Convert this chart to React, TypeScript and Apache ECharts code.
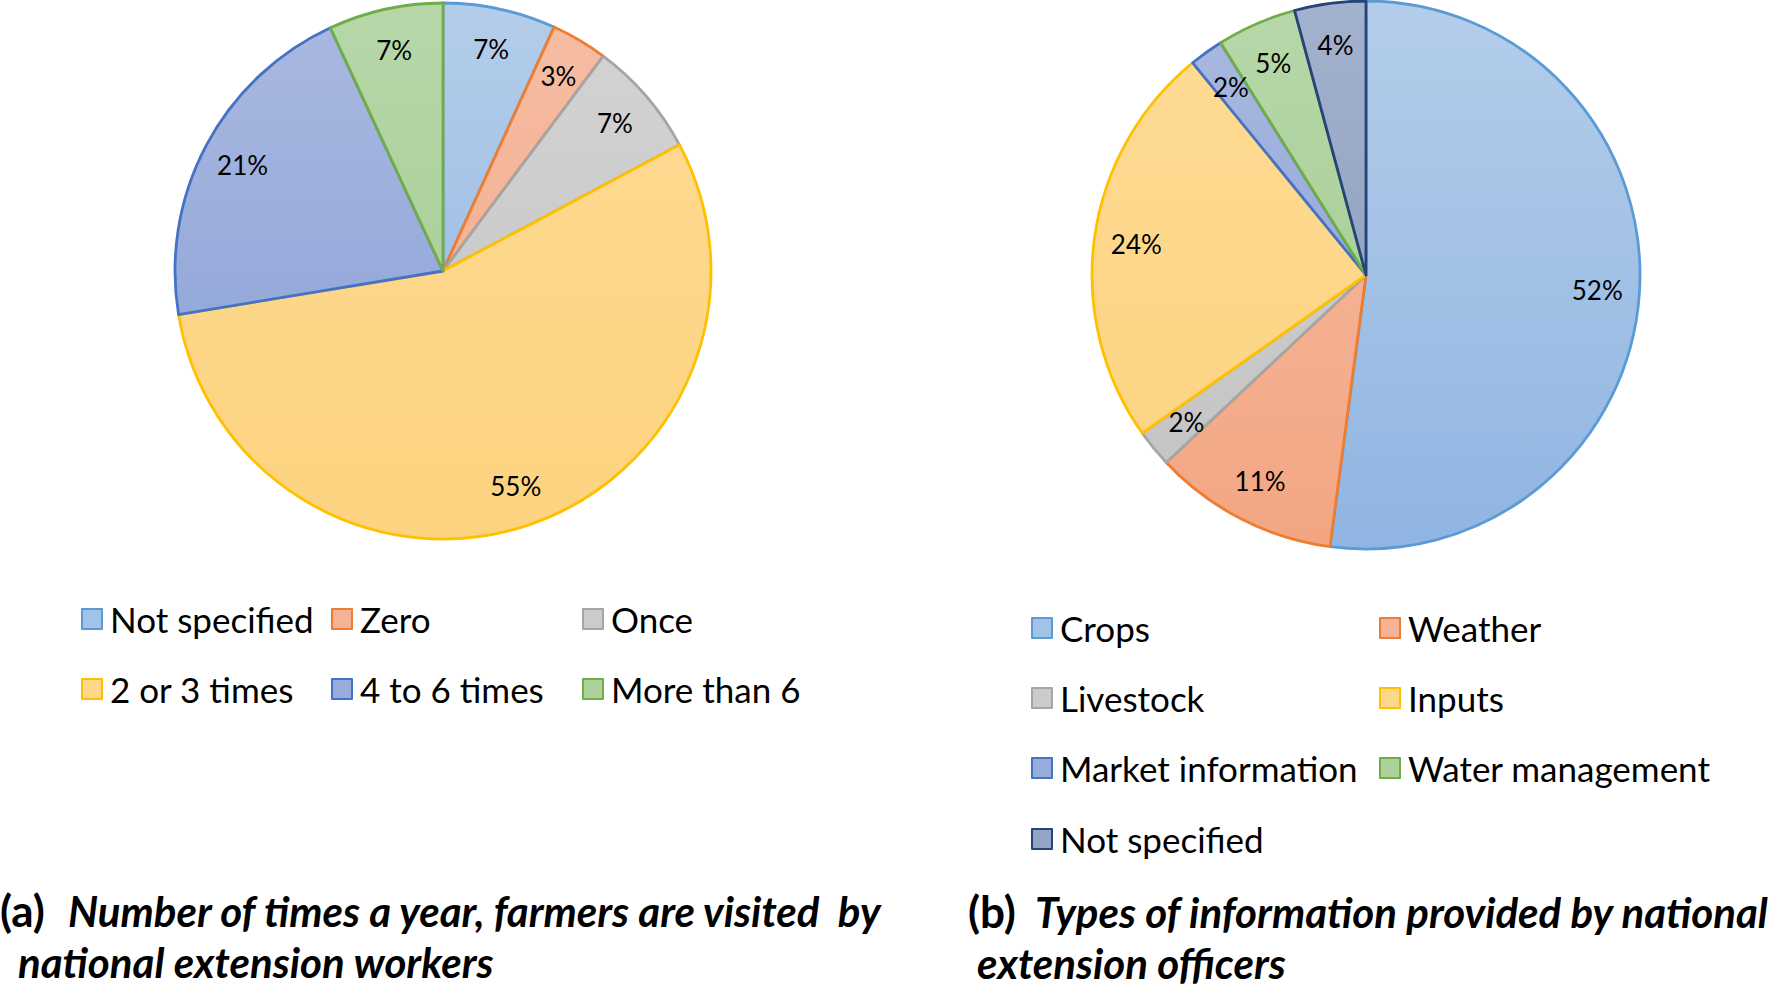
import React, { useEffect, useRef } from "react";
import * as echarts from "echarts";

// ---------- data ----------
const visitCategories = ["Not specified", "Zero", "Once", "2 or 3 times", "4 to 6 times", "More than 6"];
const visitShares = [6.8, 3.4, 7.0, 55.2, 20.7, 6.9];

const infoCategories = [
  "Crops",
  "Weather",
  "Livestock",
  "Inputs",
  "Market information",
  "Water management",
  "Not specified",
];
const infoShares = [52.1, 10.9, 2.2, 23.9, 2.0, 4.7, 4.2];

const titleAParts = ["(a)", "Number of times a year, farmers are visited  by", "national extension workers"];
const titleBParts = ["(b)", "Types of information provided by national", "extension officers"];

// ---------- styles ----------
type Pal = { border: string; top: string; bottom: string; flat: string };
const P_BLUE: Pal = { border: "#5B9BD5", top: "#B4CDEA", bottom: "#90B5E2", flat: "#A3C2E7" };
const P_ORANGE: Pal = { border: "#ED7D31", top: "#F6BEA5", bottom: "#F3A582", flat: "#F5B294" };
const P_GRAY: Pal = { border: "#A5A5A5", top: "#D4D4D4", bottom: "#C2C2C2", flat: "#CBCBCB" };
const P_GOLD: Pal = { border: "#FFC000", top: "#FEDB95", bottom: "#FCD37F", flat: "#FDD78A" };
const P_ROYAL: Pal = { border: "#4472C4", top: "#AAB9E0", bottom: "#869ED6", flat: "#98ACDB" };
const P_GREEN: Pal = { border: "#70AD47", top: "#B7D7A9", bottom: "#A1CA8C", flat: "#ACD19A" };
const P_NAVY: Pal = { border: "#264478", top: "#A3B2CD", bottom: "#8498BA", flat: "#93A5C4" };

const visitPalette = [P_BLUE, P_ORANGE, P_GRAY, P_GOLD, P_ROYAL, P_GREEN];
const infoPalette = [P_BLUE, P_ORANGE, P_GRAY, P_GOLD, P_ROYAL, P_GREEN, P_NAVY];

const FONT = "Lato, 'Open Sans', sans-serif";

type Cfg = {
  names: string[];
  values: number[];
  palette: Pal[];
  cx: number;
  cy: number;
  r: number;
  legendPos: { left: number; rowCenter: number }[];
  title: string[];
  titleX: [number, number, number];
  titleY: [number, number];
};

function buildOption(c: Cfg): any {
  const grad = (p: Pal) => ({
    type: "linear",
    x: 0,
    y: c.cy - c.r,
    x2: 0,
    y2: c.cy + c.r,
    global: true,
    colorStops: [
      { offset: 0, color: p.top },
      { offset: 1, color: p.bottom },
    ],
  });

  const mainData = c.names.map((n, i) => ({
    name: n,
    value: c.values[i],
    itemStyle: {
      color: grad(c.palette[i]),
      borderColor: c.palette[i].border,
      borderWidth: 2.8,
    },
  }));
  const labelData = c.names.map((n, i) => ({ name: n, value: c.values[i] }));

  const legends = c.names.map((n, i) => ({
    data: [
      {
        name: n,
        itemStyle: {
          color: c.palette[i].flat,
          borderColor: c.palette[i].border,
          borderWidth: 2,
        },
      },
    ],
    left: c.legendPos[i].left,
    top: c.legendPos[i].rowCenter - 20,
    padding: 0,
    itemWidth: 20,
    itemHeight: 20,
    icon: "rect",
    selectedMode: false,
    textStyle: {
      fontFamily: FONT,
      fontSize: 35,
      color: "#000",
      padding: [0, 0, 0, 3],
      lineHeight: 40,
    },
  }));

  return {
    animation: false,
    backgroundColor: "#fff",
    legend: legends,
    graphic: [
      {
        type: "text",
        left: c.titleX[0],
        top: c.titleY[0] - 28,
        style: {
          text: c.title[0],
          font: `bold 44px ${FONT}`,
          fill: "#000",
        },
      },
      {
        type: "text",
        left: c.titleX[1],
        top: c.titleY[0] - 26,
        style: {
          text: c.title[1],
          font: `italic bold 42px ${FONT}`,
          fill: "#000",
        },
      },
      {
        type: "text",
        left: c.titleX[2],
        top: c.titleY[1] - 26,
        style: {
          text: c.title[2],
          font: `italic bold 42px ${FONT}`,
          fill: "#000",
        },
      },
    ],
    series: [
      {
        type: "pie",
        center: [c.cx, c.cy],
        radius: [0, c.r],
        startAngle: 90,
        clockwise: true,
        label: { show: false },
        labelLine: { show: false },
        emphasis: { disabled: true },
        silent: true,
        data: mainData,
      },
      {
        type: "pie",
        center: [c.cx, c.cy],
        radius: [c.r * 0.67, c.r],
        startAngle: 90,
        clockwise: true,
        silent: true,
        emphasis: { disabled: true },
        itemStyle: { color: "rgba(0,0,0,0)", borderWidth: 0 },
        labelLine: { show: false },
        label: {
          show: true,
          position: "inside",
          formatter: (p: any) => `${Math.round(p.value)}%`,
          fontFamily: FONT,
          fontSize: 26,
          color: "#000",
        },
        data: labelData,
      },
    ],
  };
}

const leftCfg: Cfg = {
  names: visitCategories,
  values: visitShares,
  palette: visitPalette,
  cx: 443,
  cy: 271,
  r: 268,
  legendPos: [
    { left: 81, rowCenter: 619 },
    { left: 331, rowCenter: 619 },
    { left: 582, rowCenter: 619 },
    { left: 81, rowCenter: 689 },
    { left: 331, rowCenter: 689 },
    { left: 582, rowCenter: 689 },
  ],
  title: titleAParts,
  titleX: [0, 68, 18],
  titleY: [916, 967],
};

const rightCfg: Cfg = {
  names: infoCategories,
  values: infoShares,
  palette: infoPalette,
  cx: 482,
  cy: 275,
  r: 274,
  legendPos: [
    { left: 147, rowCenter: 628 },
    { left: 495, rowCenter: 628 },
    { left: 147, rowCenter: 698 },
    { left: 495, rowCenter: 698 },
    { left: 147, rowCenter: 768 },
    { left: 495, rowCenter: 768 },
    { left: 147, rowCenter: 839 },
  ],
  title: titleBParts,
  titleX: [84, 151, 93],
  titleY: [917, 968],
};

function PieChart({ cfg, style }: { cfg: Cfg; style: React.CSSProperties }) {
  const ref = useRef<HTMLDivElement>(null);
  useEffect(() => {
    if (!ref.current) return;
    const chart = echarts.init(ref.current, undefined, { renderer: "svg" });
    chart.setOption(buildOption(cfg));
    return () => chart.dispose();
  }, [cfg]);
  return <div ref={ref} style={style} />;
}

export default function App() {
  return (
    <div style={{ position: "absolute", left: 0, top: 0, width: 1769, height: 995, background: "#fff" }}>
      <PieChart cfg={leftCfg} style={{ position: "absolute", left: 0, top: 0, width: 884, height: 995 }} />
      <PieChart cfg={rightCfg} style={{ position: "absolute", left: 884, top: 0, width: 885, height: 995 }} />
    </div>
  );
}
